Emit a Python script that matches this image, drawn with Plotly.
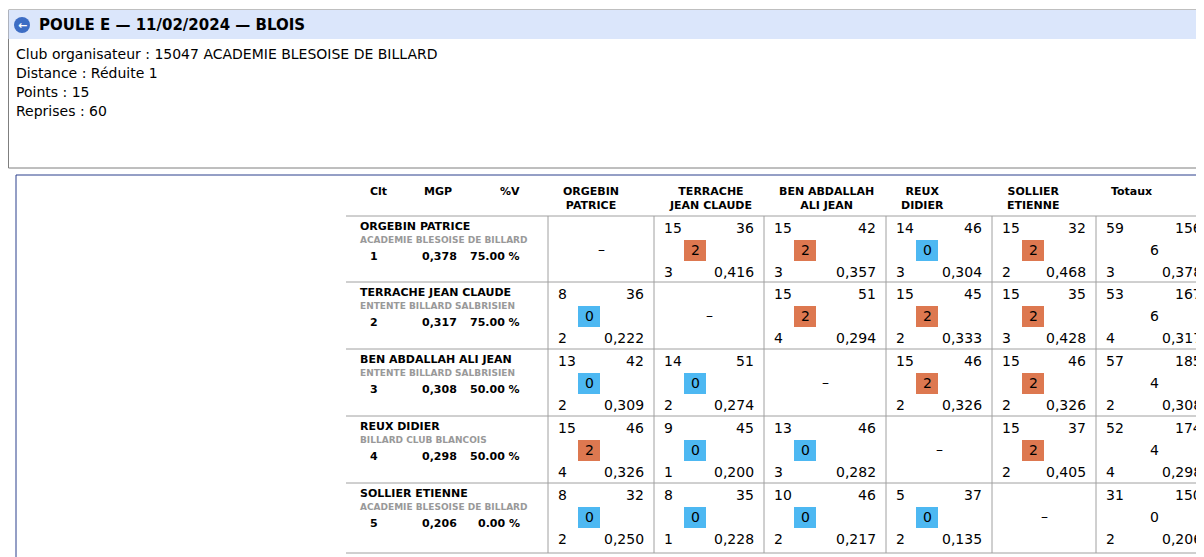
import plotly.graph_objects as go

title = "POULE E — 11/02/2024 — BLOIS"
info_lines = ["Club organisateur : 15047 ACADEMIE BLESOISE DE BILLARD", "Distance : Réduite 1", "Points : 15", "Reprises : 60"]
players = ["ORGEBIN PATRICE", "TERRACHE JEAN CLAUDE", "BEN ABDALLAH ALI JEAN", "REUX DIDIER", "SOLLIER ETIENNE"]
col_headers = ["ORGEBIN<br>PATRICE", "TERRACHE<br>JEAN CLAUDE", "BEN ABDALLAH<br>ALI JEAN", "REUX<br>DIDIER", "SOLLIER<br>ETIENNE", "Totaux"]
clubs = ["ACADEMIE BLESOISE DE BILLARD", "ENTENTE BILLARD SALBRISIEN", "ENTENTE BILLARD SALBRISIEN", "BILLARD CLUB BLANCOIS", "ACADEMIE BLESOISE DE BILLARD"]
clt = [1, 2, 3, 4, 5]
mgp = ["0,378", "0,317", "0,308", "0,298", "0,206"]
pct_v = ["75.00 %", "75.00 %", "50.00 %", "50.00 %", "0.00 %"]
# per cell: (points, reprises, match points, best series, average); None = diagonal
results = [
    [None, (15, 36, 2, 3, "0,416"), (15, 42, 2, 3, "0,357"), (14, 46, 0, 3, "0,304"), (15, 32, 2, 2, "0,468")],
    [(8, 36, 0, 2, "0,222"), None, (15, 51, 2, 4, "0,294"), (15, 45, 2, 2, "0,333"), (15, 35, 2, 3, "0,428")],
    [(13, 42, 0, 2, "0,309"), (14, 51, 0, 2, "0,274"), None, (15, 46, 2, 2, "0,326"), (15, 46, 2, 2, "0,326")],
    [(15, 46, 2, 4, "0,326"), (9, 45, 0, 1, "0,200"), (13, 46, 0, 3, "0,282"), None, (15, 37, 2, 2, "0,405")],
    [(8, 32, 0, 2, "0,250"), (8, 35, 0, 1, "0,228"), (10, 46, 0, 2, "0,217"), (5, 37, 0, 2, "0,135"), None],
]
totals = [(59, 156, 6, 3, "0,378"), (53, 167, 6, 4, "0,317"), (57, 185, 4, 2, "0,308"), (52, 174, 4, 4, "0,298"), (31, 150, 0, 2, "0,206")]

FONT = "DejaVu Sans"
col_x = [540, 646, 756, 878, 984, 1088, 1204]
row_y = [208, 274, 341, 408, 475, 545]
ORANGE, BLUE = "#dd7850", "#4db8f2"

fig = go.Figure()
shapes, ann = [], []

def T(x, y, s, size=13, color="black", bold=False, xa="left", ya="middle"):
    ann.append(dict(x=x, y=y, text=f"<b>{s}</b>" if bold else str(s), showarrow=False, xanchor=xa, yanchor=ya,
                    font=dict(family=FONT, size=size, color=color), xref="x", yref="y"))

# page frame & header
shapes.append(dict(type="rect", x0=0.5, y0=2, x1=1210, y1=160, line=dict(color="#7f7f7f", width=1), fillcolor="white"))
shapes.append(dict(type="rect", x0=0.5, y0=2, x1=1210, y1=31, line=dict(width=0), fillcolor="#dbe6fb"))
shapes.append(dict(type="circle", x0=6, y0=9, x1=22, y1=25, fillcolor="#3d6dc4", line=dict(width=0)))
T(14, 17, "←", size=11, color="white", bold=True, xa="center")
T(29, 17, title, size=15, bold=True)
for i, l in enumerate(info_lines):
    T(6, 46 + i * 19, l, size=14)

# table frame
shapes.append(dict(type="rect", x0=8, y0=167, x1=1212, y1=552, line=dict(color="#2b3f8c", width=1), fillcolor="white"))

# header row
T(370, 183, "Clt", 11, bold=True, xa="center")
T(430, 183, "MGP", 11, bold=True, xa="center")
T(502, 183, "%V", 11, bold=True, xa="center")
for j, h in enumerate(col_headers):
    T(col_x[j] + 13, 190 if "<br>" in h else 183, h, 11, bold=True)

# grid
for y in row_y:
    shapes.append(dict(type="line", x0=338, x1=1204, y0=y, y1=y, line=dict(color="#a0a0a0", width=1)))
for x in col_x[:-1]:
    shapes.append(dict(type="line", x0=x, x1=x, y0=row_y[0], y1=row_y[-1], line=dict(color="#a0a0a0", width=1)))

def cell(x0, x1, y0, d, badge=True):
    pts, rep, mp, bs, avg = d
    T(x0 + 8, y0 + 12, pts, 14)
    T(x1 - 8, y0 + 12, rep, 14, xa="right")
    T(x0 + 8, y0 + 56, bs, 14)
    T(x1 - 8, y0 + 56, avg, 14, xa="right")
    if badge:
        cx = x0 + 41
        shapes.append(dict(type="rect", x0=cx - 11, x1=cx + 11, y0=y0 + 24, y1=y0 + 45,
                           fillcolor=ORANGE if mp == 2 else BLUE, line=dict(width=0)))
        T(cx, y0 + 34, mp, 14, xa="center")
    else:
        T((x0 + x1) / 2, y0 + 34, mp, 14, xa="center")

for i in range(5):
    y0 = row_y[i]
    T(350, y0 + 10, players[i], 11, bold=True)
    T(350, y0 + 24, clubs[i], 9, color="#999999", bold=True)
    T(366, y0 + 40, clt[i], 11, bold=True, xa="center")
    T(431, y0 + 40, mgp[i], 11, bold=True, xa="center")
    T(514, y0 + 40, pct_v[i], 11, bold=True, xa="right")
    for j in range(5):
        d = results[i][j]
        if d is None:
            T((col_x[j] + col_x[j + 1]) / 2, y0 + 33, "–", 14, xa="center")
        else:
            cell(col_x[j], col_x[j + 1], y0, d)
    cell(col_x[5], col_x[6], y0, totals[i], badge=False)

fig.update_layout(width=1204, height=557, margin=dict(l=0, r=0, t=0, b=0),
                  plot_bgcolor="white", paper_bgcolor="white", shapes=shapes, annotations=ann,
                  xaxis=dict(range=[0, 1204], visible=False, fixedrange=True),
                  yaxis=dict(range=[557, 0], visible=False, fixedrange=True), showlegend=False)
fig.write_html("out.html", config={"displayModeBar": False})
